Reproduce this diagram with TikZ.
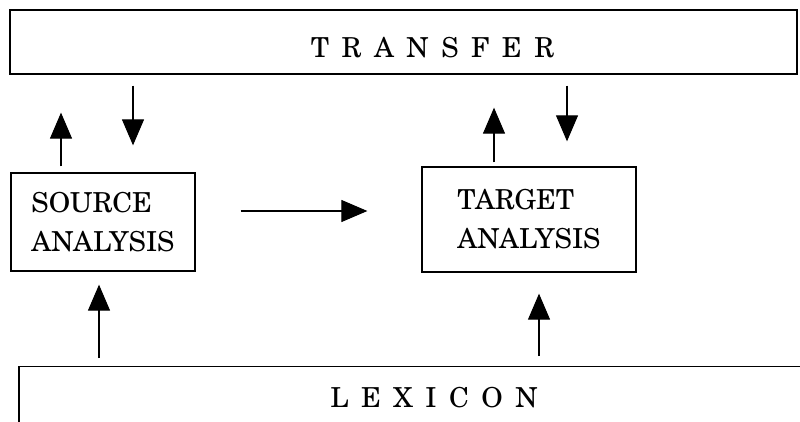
\documentclass[tikz,border=0pt]{standalone}
\usepackage{fontspec}
\setmainfont{TeX Gyre Schola}
\usetikzlibrary{arrows.meta}
\newcommand\lettergap{\hspace{12.5pt}}
\begin{document}
\begin{tikzpicture}[x=1pt,y=-1pt,
  box/.style={draw, line width=1.3pt, inner sep=0pt},
  boxtext/.style={font=\fontsize{27.5}{39}\selectfont, align=left},
  title/.style={font=\fontsize{27.5}{30}\selectfont, inner sep=0pt},
  arr/.style={line width=1.1pt, -{Triangle[length=26pt,width=22pt]}}]
\useasboundingbox (0,0) rectangle (800,422);

% transfer stage
\node[box, minimum width=787, minimum height=64] (transfer) at (403.5,42) {};
\node[title] (transferlabel) at (432.5,47.5)
  {T\lettergap R\lettergap A\lettergap N\lettergap S\lettergap F\lettergap E\lettergap R};

% analysis stages
\node[box, boxtext, minimum width=184, minimum height=98] (src) at (103,222) {SOURCE\\ANALYSIS};
\node[box, boxtext, minimum width=214, minimum height=105] (tgt) at (529,219.5) {TARGET\\ANALYSIS};

% lexicon, open at the right and bottom
\node[inner sep=0pt, minimum width=781, minimum height=55.5, anchor=north west] (lexicon) at (19,366.5) {};
\draw[line width=1.3pt] (lexicon.south west) -- (lexicon.north west) -- (lexicon.north east);
\node[title] (lexlabel) at (434,398)
  {L\lettergap E\lettergap X\lettergap I\lettergap C\lettergap O\lettergap N};

% data flow
\draw[arr, shorten <=6pt, shorten >=38pt] ([xshift=-42pt]src.north) -- ([xshift=-42pt]src.north |- transfer.south);
\draw[arr, shorten <=11pt, shorten >=27pt] ([xshift=30pt]src.north |- transfer.south) -- ([xshift=30pt]src.north);
\draw[arr, shorten <=45pt, shorten >=54pt] ([yshift=11pt]src.east) -- ([yshift=11pt]src.east -| tgt.west);
\draw[arr, shorten <=4pt, shorten >=33pt] ([xshift=-35pt]tgt.north) -- ([xshift=-35pt]tgt.north |- transfer.south);
\draw[arr, shorten <=11pt, shorten >=25pt] ([xshift=38pt]tgt.north |- transfer.south) -- ([xshift=38pt]tgt.north);
\draw[arr, shorten <=8.5pt, shorten >=13pt] ([xshift=-4pt]src.south |- lexicon.north) -- ([xshift=-4pt]src.south);
\draw[arr, shorten <=10.5pt, shorten >=21pt] ([xshift=10pt]tgt.south |- lexicon.north) -- ([xshift=10pt]tgt.south);
\end{tikzpicture}
\end{document}
